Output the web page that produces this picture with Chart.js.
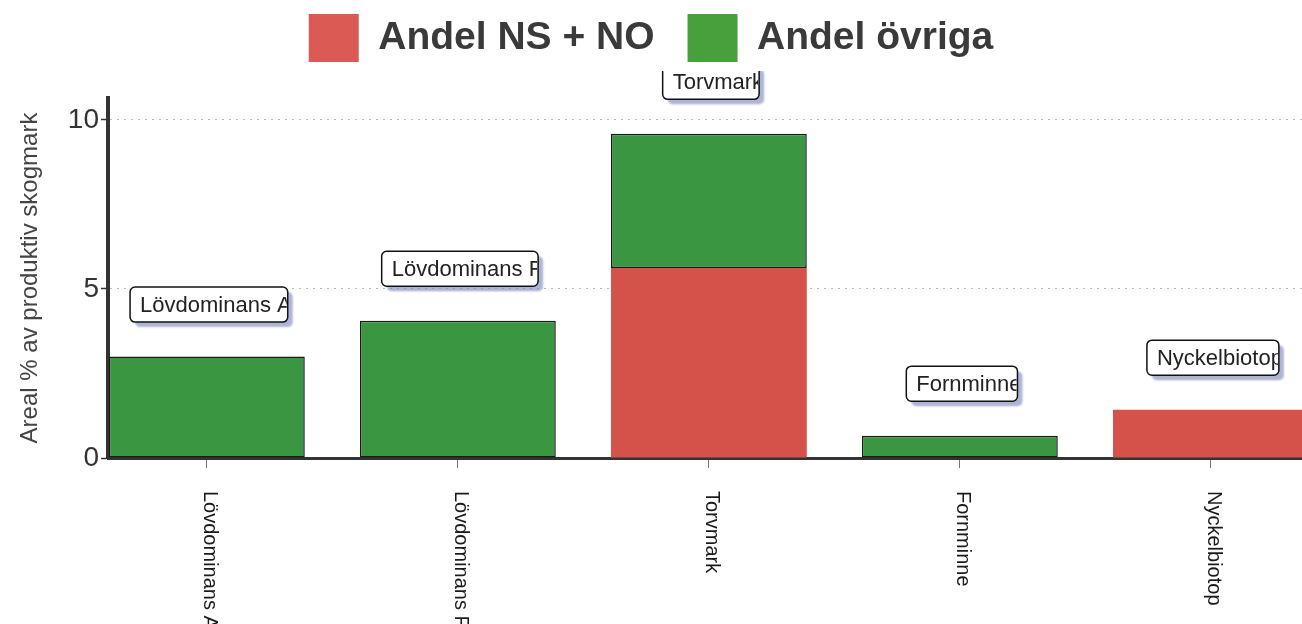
<!DOCTYPE html>
<html>
<head>
<meta charset="utf-8">
<script src="https://cdn.jsdelivr.net/npm/chart.js@4.4.1/dist/chart.umd.min.js"></script>
<style>
html, body { margin: 0; padding: 0; background: #fff; }
</style>
</head>
<body>
<canvas id="chart" width="1302" height="624"></canvas>
<script>
// data
const categories = ['Lövdominans A', 'Lövdominans F', 'Torvmark', 'Fornminne', 'Nyckelbiotop'];
const andelNsNo = [null, null, 5.62, null, 1.43];
const andelOvriga = [3.0, 4.06, 3.97, 0.66, null];
const yTicks = [0, 5, 10];

const FONT = '"Liberation Sans", Arial, sans-serif';
const legendColors = ['#dc5a54', '#48a03c'];

// legend is taller in the original (plot starts lower)
const legendHeight = {
    id: 'legendHeight',
    beforeLayout(chart) {
        const lg = chart.legend;
        if (lg && !lg._patched) {
            const fit = lg.fit;
            lg.fit = function () { fit.call(this); this.height = 117; };
            lg._patched = true;
        }
    }
};

// x labels (rotated clockwise) and the boxed labels above the bars
const labelPlugin = {
    id: 'barLabels',
    afterDraw(chart) {
        const ctx = chart.ctx;
        const x = chart.scales.x, y = chart.scales.y;

        ctx.save();
        ctx.font = '20px ' + FONT;
        ctx.fillStyle = '#1a1a1a';
        categories.forEach((c, i) => {
            ctx.save();
            ctx.translate(x.getPixelForValue(i) + 3, 491);
            ctx.rotate(Math.PI / 2);
            ctx.textAlign = 'left';
            ctx.textBaseline = 'middle';
            ctx.fillText(c, 0, 0);
            ctx.restore();
        });
        ctx.restore();

        ctx.save();
        ctx.beginPath();
        ctx.rect(0, 71, chart.width, chart.height);
        ctx.clip();
        ctx.font = '22px ' + FONT;
        categories.forEach((c, i) => {
            const total = (andelNsNo[i] || 0) + (andelOvriga[i] || 0);
            const cx = x.getPixelForValue(i) + 2;
            const cy = y.getPixelForValue(total) - 52;
            const w = ctx.measureText(c).width + 6, h = 35;
            const bx = cx - w / 2, by = cy - h / 2;

            ctx.save();
            ctx.shadowColor = 'rgba(120,130,185,0.6)';
            ctx.shadowOffsetX = 5;
            ctx.shadowOffsetY = 5;
            ctx.shadowBlur = 2;
            ctx.fillStyle = '#fff';
            ctx.beginPath();
            ctx.roundRect(bx, by, w, h, 5);
            ctx.fill();
            ctx.restore();

            ctx.save();
            ctx.beginPath();
            ctx.rect(bx, by, w - 1, h);
            ctx.clip();
            ctx.fillStyle = '#222';
            ctx.textAlign = 'left';
            ctx.textBaseline = 'middle';
            ctx.fillText(c, bx + 10, cy + 1);
            ctx.restore();

            ctx.lineWidth = 1.5;
            ctx.strokeStyle = '#111';
            ctx.beginPath();
            ctx.roundRect(bx, by, w, h, 5);
            ctx.stroke();
        });
        ctx.restore();
    }
};

const ctx = document.getElementById('chart').getContext('2d');
const chart = new Chart(ctx, {
    type: 'bar',
    data: {
        datasets: [{
            label: 'Andel NS + NO',
            data: andelNsNo.map((v, i) => ({x: i, y: v})),
            backgroundColor: '#d4524a',
            borderWidth: 0
        }, {
            label: 'Andel övriga',
            data: andelOvriga.map((v, i) => ({x: i, y: v})),
            backgroundColor: '#3a9640',
            borderColor: '#1a1a1a',
            borderWidth: 1.5,
            borderSkipped: false
        }]
    },
    options: {
        responsive: false,
        animation: false,
        devicePixelRatio: 1,
        categoryPercentage: 1,
        barPercentage: 0.78,
        layout: { padding: { top: -19, left: 0, right: 0, bottom: 0 } },
        plugins: {
            tooltip: { enabled: false },
            legend: {
                position: 'top',
                labels: {
                    font: { family: FONT, size: 39, weight: 'bold' },
                    color: '#3a3a3a',
                    boxWidth: 50,
                    boxHeight: 48,
                    padding: 33,
                    generateLabels: chart => chart.data.datasets.map((ds, i) => ({
                        text: ds.label,
                        fillStyle: legendColors[i],
                        strokeStyle: legendColors[i],
                        lineWidth: 0,
                        fontColor: '#3a3a3a',
                        hidden: false,
                        datasetIndex: i
                    }))
                }
            }
        },
        scales: {
            x: {
                type: 'linear',
                min: -0.394,
                max: 4.363,
                offset: false,
                stacked: true,
                afterBuildTicks: s => {
                    s.ticks = categories.map((c, i) => ({value: i}));
                    s.min = -0.394;
                    s.max = 4.363;
                },
                afterFit: s => { s.height = 166; },
                ticks: { display: false },
                grid: { offset: false, drawOnChartArea: false, drawTicks: true, tickLength: 10, tickColor: '#777', tickWidth: 1 },
                border: { color: '#333', width: 3 }
            },
            y: {
                stacked: true,
                min: 0,
                max: 10.65,
                afterBuildTicks: s => {
                    s.ticks = yTicks.map(v => ({value: v}));
                    s.min = 0;
                    s.max = 10.65;
                },
                afterFit: s => { s.width = 108; },
                ticks: { font: { family: FONT, size: 28 }, color: '#333', padding: 2 },
                title: {
                    display: true,
                    text: 'Areal % av produktiv skogmark',
                    font: { family: FONT, size: 24 },
                    color: '#444',
                    padding: { top: 16, bottom: 0 }
                },
                grid: {
                    color: c => c.tick && c.tick.value === 0 ? 'rgba(0,0,0,0)' : '#bbb',
                    lineWidth: 1,
                    tickColor: '#333',
                    tickLength: 7,
                    tickWidth: 1.5,
                    tickBorderDash: []
                },
                border: { color: '#333', width: 4, dash: [2, 5] }
            }
        }
    },
    plugins: [legendHeight, labelPlugin]
});
</script>
</body>
</html>
